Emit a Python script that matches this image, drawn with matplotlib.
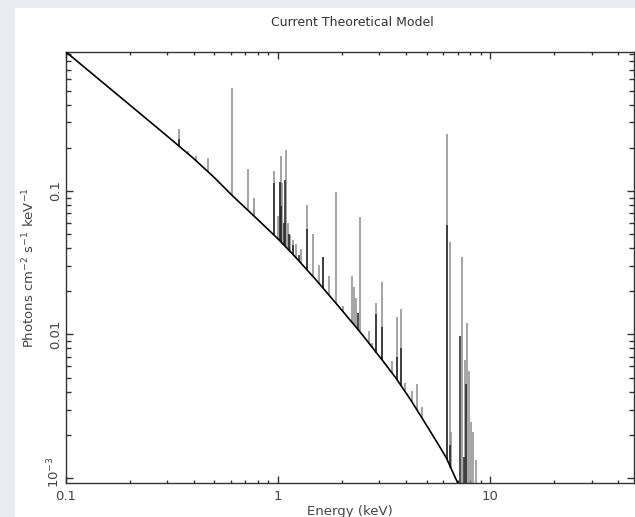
import numpy as np
import matplotlib
matplotlib.use("Agg")
import matplotlib.pyplot as plt
from matplotlib.patches import Rectangle
from matplotlib.transforms import ScaledTranslation
from matplotlib.ticker import LogLocator, FixedLocator, FixedFormatter, NullFormatter

# Continuum (energy keV, photons cm^-2 s^-1 keV^-1)
cont_energy = [0.1, 0.15, 0.2, 0.3, 0.4, 0.5, 0.614, 0.8, 1.0, 1.2, 1.5, 2.0, 2.5,
               3.09, 3.6, 4.2, 4.7, 5.2, 5.7, 6.2, 6.7, 7.0, 7.3]
cont_flux = [0.93, 0.565, 0.397, 0.241, 0.168, 0.124, 0.0915, 0.0633, 0.0462, 0.0349,
             0.0242, 0.0147, 0.00989, 0.00664, 0.00493, 0.00352, 0.0027, 0.00212,
             0.0017, 0.00138, 0.00107, 0.00093, 0.00081]

# Emission lines (light): energy, peak flux
line_energy = [0.341, 0.375, 0.409, 0.469, 0.609, 0.722, 0.765, 0.773, 0.957, 1.00,
               1.02, 1.03, 1.045, 1.094, 1.113, 1.14, 1.168, 1.212, 1.274, 1.374,
               1.452, 1.55, 1.62, 1.73, 1.87, 2.03, 2.22, 2.28, 2.32, 2.44, 2.69,
               2.78, 2.90, 3.08, 3.44, 3.63, 3.79, 3.94, 4.27, 4.51, 4.76, 6.22,
               6.48, 6.55, 7.33, 7.57, 7.76, 7.91, 8.11, 8.28, 8.56]
line_peak = [0.269, 0.190, 0.174, 0.169, 0.52, 0.142, 0.090, 0.0744, 0.138, 0.067,
             0.116, 0.176, 0.114, 0.193, 0.0596, 0.0493, 0.0456, 0.0428, 0.0393, 0.0799,
             0.050, 0.0305, 0.0345, 0.0256, 0.098, 0.0158, 0.0256, 0.0213, 0.0179, 0.0662, 0.0105,
             0.0087, 0.0167, 0.0233, 0.00653, 0.0133, 0.0151, 0.00457, 0.00405, 0.00452, 0.00314, 0.249,
             0.0444, 0.0021, 0.0348, 0.00664, 0.012, 0.0056, 0.00247, 0.0021, 0.00134]

# Blended (dark) line components: energy, peak flux
dark_energy = [0.341, 0.957, 1.02, 1.03, 1.08, 1.06, 1.12, 1.18, 1.25, 1.374, 1.62,
               2.39, 2.90, 3.08, 3.63, 3.79, 6.22, 6.48, 7.21, 7.5, 7.70]
dark_peak = [0.23, 0.113, 0.116, 0.078, 0.119, 0.06, 0.05, 0.042, 0.036, 0.054, 0.0345,
             0.0141, 0.0139, 0.0113, 0.007, 0.0081, 0.058, 0.0017, 0.0098, 0.0014, 0.0045]

x_ticks = [0.1, 1, 10]
x_ticklabels = ["0.1", "1", "10"]
y_ticks = [0.001, 0.01, 0.1]
y_ticklabels = [r"$10^{-3}$", "0.01", "0.1"]

W, H = 635, 517
fig = plt.figure(figsize=(W / 100, H / 100), dpi=100)
fig.patch.set_facecolor("#e9edf1")
fig.add_artist(Rectangle((15 / W, 0), 1, 1 - 8 / H, transform=fig.transFigure,
                         facecolor="white", edgecolor="none", zorder=0))

ax = fig.add_axes([66 / W, 1 - 482.7 / H, (634 - 66) / W, (482.7 - 51.5) / H])
ax.set_facecolor("white")
ax.set_xscale("log")
ax.set_yscale("log")
ax.set_xlim(0.1, 47.5)
ax.set_ylim(9.27e-4, 0.937)

lce = np.log10(cont_energy)
lcf = np.log10(cont_flux)

def base(e):
    return 10 ** np.interp(np.log10(e), lce, lcf, right=-3.2)

le = np.array(line_energy)
ax.vlines(le, base(le), line_peak, colors="#8c8c8c", linewidth=1.1, zorder=2)
de = np.array(dark_energy)
ax.vlines(de, base(de), dark_peak, colors="#222222", linewidth=1.1, zorder=3)
ax.plot(cont_energy, cont_flux, color="black", linewidth=1.2, zorder=4)

ax.xaxis.set_major_locator(FixedLocator(x_ticks))
ax.xaxis.set_major_formatter(FixedFormatter(x_ticklabels))
ax.xaxis.set_minor_locator(LogLocator(base=10, subs=np.arange(2, 10), numticks=20))
ax.xaxis.set_minor_formatter(NullFormatter())
ax.yaxis.set_major_locator(FixedLocator(y_ticks))
ax.yaxis.set_major_formatter(FixedFormatter(y_ticklabels))
ax.yaxis.set_minor_locator(LogLocator(base=10, subs=np.arange(2, 10), numticks=20))
ax.yaxis.set_minor_formatter(NullFormatter())

ax.tick_params(which="both", direction="in", top=True, right=True, colors="#333333",
               labelcolor="#444444", labelsize=9.5, width=1.0)
ax.tick_params(axis="x", which="major", length=5, pad=5)
ax.tick_params(axis="x", which="minor", length=2.5)
ax.tick_params(axis="y", which="major", length=5, pad=3)
ax.tick_params(axis="y", which="minor", length=3.5)
for lab in ax.get_yticklabels():
    lab.set_rotation(90)
    lab.set_va("center")

fig.canvas.draw()
first = ax.yaxis.get_major_ticks()[0].label1
first.set_transform(first.get_transform() + ScaledTranslation(0, 4 / 72, fig.dpi_scale_trans))

for s in ax.spines.values():
    s.set_color("#333333")
    s.set_linewidth(1.0)

ax.set_ylabel(r"Photons cm$^{-2}$ s$^{-1}$ keV$^{-1}$", fontsize=9.5, color="#444444", labelpad=6)
fig.text(350 / W, 1 - 511 / H, "Energy (keV)", ha="center", va="center", fontsize=9.5, color="#444444")
fig.text(352 / W, 1 - 22 / H, "Current Theoretical Model", ha="center", va="center",
         fontsize=9, color="#333333")

fig.savefig("out.png", dpi=100, facecolor=fig.get_facecolor())
